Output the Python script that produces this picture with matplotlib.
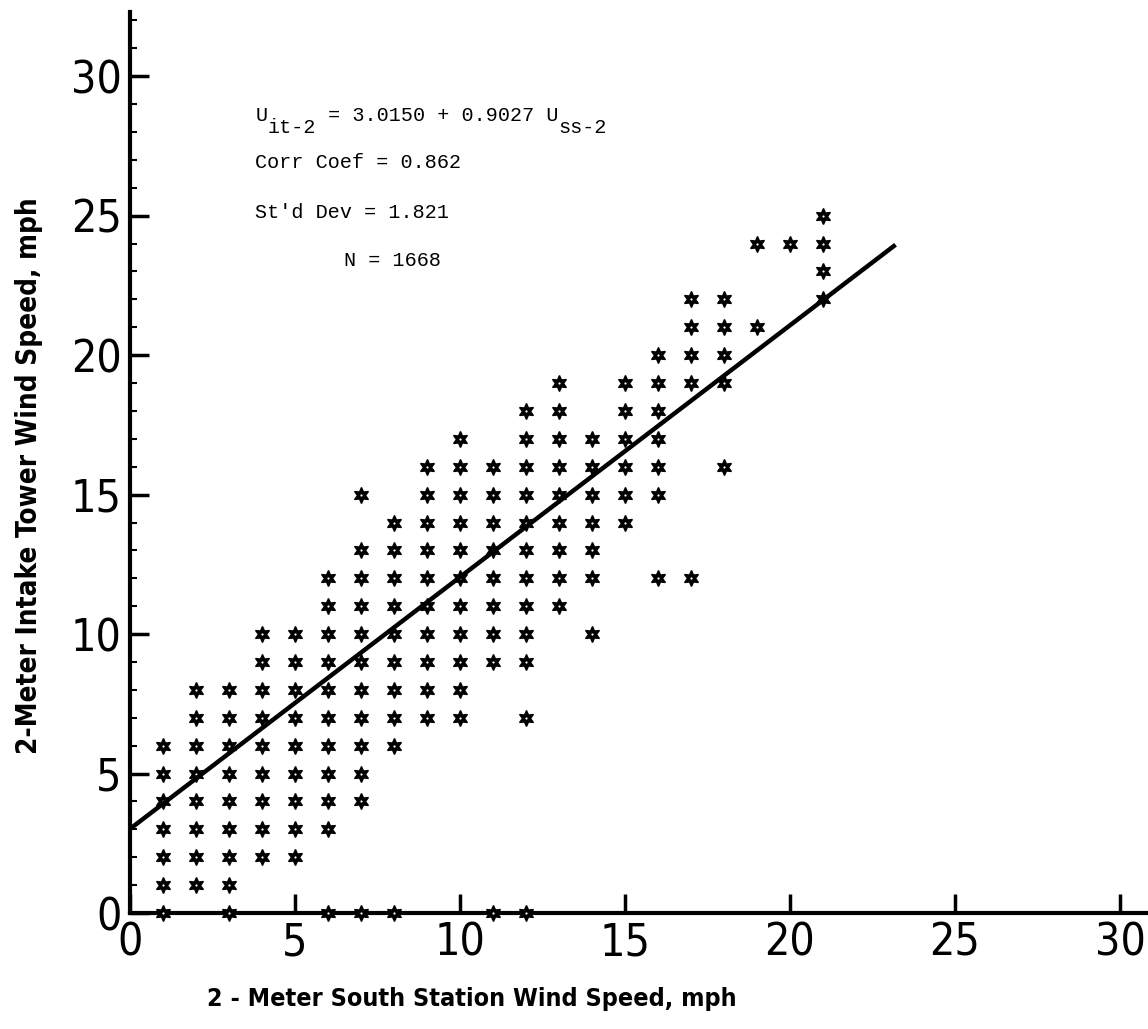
import numpy as np
import matplotlib
matplotlib.use("Agg")
import matplotlib.pyplot as plt
from matplotlib import font_manager
from matplotlib.ticker import MultipleLocator

# South station speed (mph) for each column of points
south_speed = [1, 2, 3, 4, 5, 6, 7, 8, 9, 10, 11, 12, 13, 14, 15, 16, 17, 18, 19, 20, 21]

# Intake tower speeds (mph) observed at each south station speed
intake_speed = [
    [0, 1, 2, 3, 4, 5, 6],
    [1, 2, 3, 4, 5, 6, 7, 8],
    [0, 1, 2, 3, 4, 5, 6, 7, 8],
    [2, 3, 4, 5, 6, 7, 8, 9, 10],
    [2, 3, 4, 5, 6, 7, 8, 9, 10],
    [0, 3, 4, 5, 6, 7, 8, 9, 10, 11, 12],
    [0, 4, 5, 6, 7, 8, 9, 10, 11, 12, 13, 15],
    [0, 6, 7, 8, 9, 10, 11, 12, 13, 14],
    [7, 8, 9, 10, 11, 12, 13, 14, 15, 16],
    [7, 8, 9, 10, 11, 12, 13, 14, 15, 16, 17],
    [0, 9, 10, 11, 12, 13, 14, 15, 16],
    [0, 7, 9, 10, 11, 12, 13, 14, 15, 16, 17, 18],
    [11, 12, 13, 14, 15, 16, 17, 18, 19],
    [10, 12, 13, 14, 15, 16, 17],
    [14, 15, 16, 17, 18, 19],
    [12, 15, 16, 17, 18, 19, 20],
    [12, 19, 20, 21, 22],
    [16, 19, 20, 21, 22],
    [21, 24],
    [24],
    [22, 23, 24, 25],
]

# regression fit
intercept = 3.0150
slope = 0.9027
fit_end = 23.2

tick_vals = [0, 5, 10, 15, 20, 25, 30]

# narrow lettering font for axes, typewriter font for the annotation
installed = {f.name for f in font_manager.fontManager.ttflist}
if "Liberation Sans Narrow" in installed:
    axis_font = dict(family="Liberation Sans Narrow")
else:
    axis_font = dict(family="DejaVu Sans", stretch="condensed")
mono = "Liberation Mono" if "Liberation Mono" in installed else "DejaVu Sans Mono"

fig = plt.figure(figsize=(11.48, 10.29), dpi=100)
ax = fig.add_axes([0.1132, 0.1127, 0.8868, 0.8756])

xs = []
ys = []
for sx, col in zip(south_speed, intake_speed):
    for iy in col:
        xs.append(sx)
        ys.append(iy)
# six-pointed stars with a tiny open centre
ax.plot(xs, ys, linestyle="none", marker=(6, 1, 0), markersize=11.5,
        color="black", markeredgewidth=1.0, clip_on=False, zorder=3)
ax.plot(xs, ys, linestyle="none", marker="o", markersize=1.6,
        color="white", markeredgewidth=0, clip_on=False, zorder=3.5)

fx = np.array([0, fit_end])
ax.plot(fx, intercept + slope * fx, color="black", linewidth=3.2,
        solid_capstyle="butt", zorder=4)

ax.set_xlim(0, 30.85)
ax.set_ylim(0, 32.3)
ax.spines["top"].set_visible(False)
ax.spines["right"].set_visible(False)
for s in ("left", "bottom"):
    ax.spines[s].set_linewidth(3)

ax.set_xticks(tick_vals)
ax.set_yticks(tick_vals)
ax.set_xticklabels([str(v) for v in tick_vals])
ax.set_yticklabels([str(v) for v in tick_vals])
ax.yaxis.set_minor_locator(MultipleLocator(1))
ax.tick_params(axis="both", which="major", direction="in", length=14,
               width=2.5, pad=6)
ax.tick_params(axis="y", which="minor", direction="in", length=5, width=1.5)
for lab in ax.get_xticklabels() + ax.get_yticklabels():
    lab.set_fontproperties(font_manager.FontProperties(size=32, **axis_font))

ax.set_xlabel("2 - Meter South Station Wind Speed, mph", fontsize=18,
              fontweight="bold", **axis_font)
ax.set_ylabel("2-Meter Intake Tower Wind Speed, mph", fontsize=20,
              fontweight="bold", **axis_font)
ax.xaxis.set_label_coords(0.336, -0.082)
ax.yaxis.set_label_coords(-0.085, 0.486)

# regression equation with typewriter-style subscripts
tsize = 14.5
t1 = ax.text(3.8, 28.6, "U", fontsize=tsize, family=mono, va="center")
t2 = ax.annotate("it-2", xy=(1, 0), xycoords=t1, xytext=(0, -9),
                 textcoords="offset points", fontsize=tsize, family=mono,
                 va="bottom")
t3 = ax.annotate(" = 3.0150 + 0.9027 U", xy=(1, 0), xycoords=t2,
                 xytext=(0, 9), textcoords="offset points", fontsize=tsize,
                 family=mono, va="bottom")
ax.annotate("ss-2", xy=(1, 0), xycoords=t3, xytext=(0, -9),
            textcoords="offset points", fontsize=tsize, family=mono,
            va="bottom")
ax.text(3.8, 26.9, "Corr Coef = 0.862", fontsize=tsize, family=mono, va="center")
ax.text(3.8, 25.1, "St'd Dev = 1.821", fontsize=tsize, family=mono, va="center")
ax.text(6.5, 23.4, "N = 1668", fontsize=tsize, family=mono, va="center")

fig.savefig("out.png", dpi=100, facecolor="white")
